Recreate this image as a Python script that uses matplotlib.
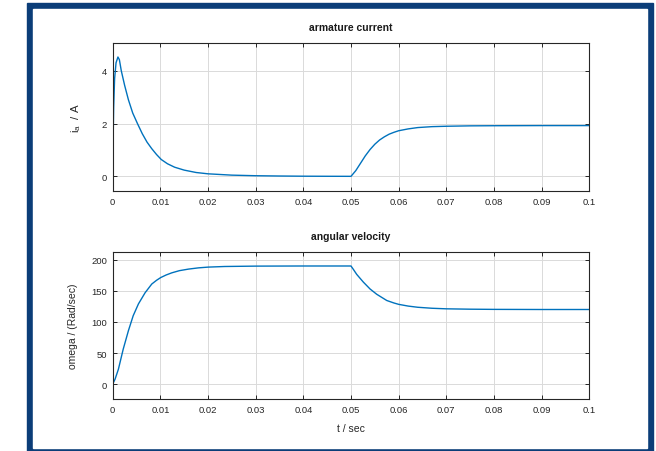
import numpy as np
import matplotlib
matplotlib.use("Agg")
import matplotlib.pyplot as plt
from matplotlib.patches import Rectangle

plt.rcParams['font.family'] = ['Liberation Sans', 'DejaVu Sans']
plt.rcParams['mathtext.default'] = 'regular'

# armature current
t_ia = [0, 0.0001, 0.0002, 0.0004, 0.0007, 0.0011, 0.0014, 0.0018, 0.0025, 0.0033,
        0.0042, 0.0052, 0.0062, 0.0072, 0.0082, 0.0092, 0.0102, 0.0115, 0.013,
        0.015, 0.0175, 0.02, 0.025, 0.03, 0.035, 0.04, 0.045, 0.05,
        0.051, 0.052, 0.053, 0.054, 0.055, 0.056, 0.057, 0.058, 0.059, 0.06,
        0.062, 0.064, 0.067, 0.07, 0.075, 0.08, 0.09, 0.1]
ia = [0, 1.5, 2.6, 3.7, 4.3, 4.52, 4.42, 4.0, 3.45, 2.9,
      2.4, 2.0, 1.62, 1.3, 1.05, 0.83, 0.64, 0.48, 0.35,
      0.24, 0.15, 0.10, 0.05, 0.028, 0.017, 0.01, 0.007, 0.005,
      0.22, 0.5, 0.78, 1.02, 1.22, 1.38, 1.5, 1.6, 1.67, 1.73,
      1.8, 1.85, 1.885, 1.9, 1.915, 1.92, 1.925, 1.925]

# angular velocity
t_w = [0, 0.0005, 0.0012, 0.0022, 0.0033, 0.0043, 0.0054, 0.0068, 0.0082,
       0.0092, 0.0101, 0.0112, 0.0124, 0.014, 0.0159, 0.018, 0.02, 0.0235,
       0.03, 0.04, 0.05,
       0.0505, 0.0512, 0.0526, 0.054, 0.0554, 0.0575, 0.059, 0.06, 0.062,
       0.064, 0.067, 0.07, 0.075, 0.08, 0.09, 0.1]
omega = [0, 8, 24, 56, 86, 110, 129, 147, 161,
         167, 171.5, 175.5, 179, 182.5, 185, 187, 188.2, 189.2,
         189.8, 190, 190,
         184.5, 176.5, 164, 153, 144.5, 134.5, 130.5, 128.3, 125.5,
         123.6, 122, 121.1, 120.5, 120.2, 120, 120]

xticks = np.arange(0, 0.1001, 0.01)
xlabels = ['0', '0.01', '0.02', '0.03', '0.04', '0.05', '0.06', '0.07', '0.08', '0.09', '0.1']

fig = plt.figure(figsize=(6.56, 4.52), dpi=100)

# blue frame
fig.patches.append(Rectangle((27/656, -0.01), 626/656, 1 - 4/452 + 0.01,
                             transform=fig.transFigure, color='#0b3d78', zorder=-10))
fig.patches.append(Rectangle((33/656, 3/452), 614/656, 439.5/452,
                             transform=fig.transFigure, color='white', zorder=-9))

ax1 = fig.add_axes([112.7/656, 1 - 192/452, 476.6/656, 148/452])
ax2 = fig.add_axes([112.7/656, 1 - 400/452, 476.6/656, 147.3/452])

blue = '#0072BD'
ax1.plot(t_ia, ia, color=blue, lw=1.0)
ax2.plot(t_w, omega, color=blue, lw=1.0)

ax1.set_ylim(-0.55, 5.05)
ax1.set_yticks([0, 2, 4])
ax2.set_ylim(-24, 213)
ax2.set_yticks([0, 50, 100, 150, 200])

for ax in (ax1, ax2):
    ax.set_xlim(0, 0.1)
    ax.set_xticks(xticks)
    ax.set_xticklabels(xlabels)
    ax.grid(True, color='#dadada', lw=0.7)
    ax.set_axisbelow(True)
    ax.tick_params(direction='in', length=3, width=0.7, top=True, right=True,
                   labelsize=6.8, colors='#262626', pad=4)
    for s in ax.spines.values():
        s.set_color('#262626')
        s.set_linewidth(0.8)

ax1.set_title('armature current', fontsize=7.5, fontweight='bold', pad=9, color='#1a1a1a')
ax2.set_title('angular velocity', fontsize=7.5, fontweight='bold', pad=9, color='#1a1a1a')
ax1.set_ylabel('i$_a$  / A', fontsize=8.2, color='#262626')
ax2.set_ylabel('omega / (Rad/sec)', fontsize=7.5, color='#262626')
ax2.set_xlabel('t / sec', fontsize=7.5, color='#262626', labelpad=7)
ax1.yaxis.set_label_coords(-0.062, 0.5)
ax2.yaxis.set_label_coords(-0.073, 0.5)

fig.savefig('out.png', dpi=100)
